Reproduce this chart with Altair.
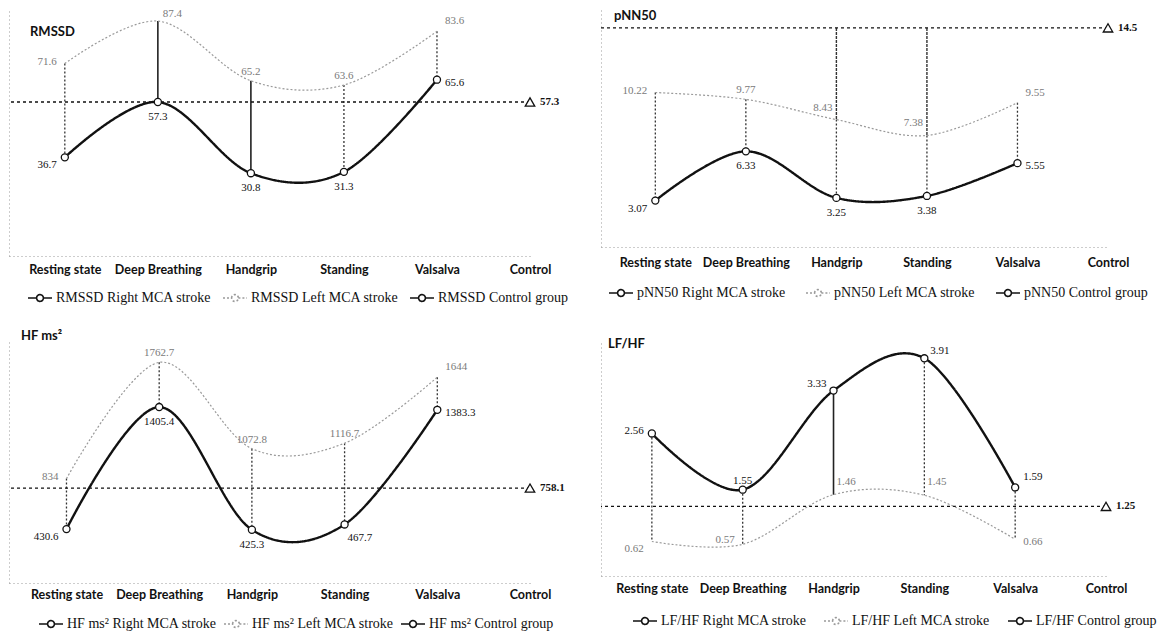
import altair as alt
import pandas as pd

categories = ["Resting state", "Deep Breathing", "Handgrip", "Standing", "Valsalva", "Control"]
tests = categories[:5]

rmssd_right = [36.7, 57.3, 30.8, 31.3, 65.6]
rmssd_left = [71.6, 87.4, 65.2, 63.6, 83.6]
rmssd_control = 57.3

pnn50_right = [3.07, 6.33, 3.25, 3.38, 5.55]
pnn50_left = [10.22, 9.77, 8.43, 7.38, 9.55]
pnn50_control = 14.5

hf_right = [430.6, 1405.4, 425.3, 467.7, 1383.3]
hf_left = [834, 1762.7, 1072.8, 1116.7, 1644]
hf_control = 758.1

lfhf_right = [2.56, 1.55, 3.33, 3.91, 1.59]
lfhf_left = [0.62, 0.57, 1.46, 1.45, 0.66]
lfhf_control = 1.25

SERIF = "Liberation Serif"
SANS = "Lato"
LEG_SYMBOL = "M-1.2,0L-0.34,0M0.34,0L1.2,0M-0.34,0A0.34,0.34,0,1,1,0.34,0A0.34,0.34,0,1,1,-0.34,0Z"


def fmt(v):
    return f"{v:g}"


def label_style(pos, top):
    if pos == "first":
        return ("right", -8, -2) if top else ("right", -8, 8)
    if pos == "last":
        return ("left", 8, -10) if top else ("left", 8, 3)
    return ("center", 0, -9) if top else ("center", 0, 15)


def panel(title, prefix, right, left, control, ymax, width, height, pad,
          title_xy, legend_xy, legend_pad, label_pad, ctrl_drops=(), solid_drops=(),
          overrides=None):
    overrides = overrides or {}
    names = [f"{prefix} Right MCA stroke", f"{prefix} Left MCA stroke", f"{prefix} Control group"]
    n = len(tests)
    pos = ["first"] + ["mid"] * (n - 2) + ["last"]
    rows = []
    for i, c in enumerate(tests):
        for isright, v, other in ((True, right[i], left[i]), (False, left[i], right[i])):
            top = v >= other if isright else v > other
            st = overrides.get((c, top), label_style(pos[i], top))
            rows.append({"cat": c, "val": v, "series": names[0] if isright else names[1],
                         "label": fmt(v), "isright": isright, "sty": "|".join(map(str, st))})
    df = pd.DataFrame(rows)
    drops = pd.DataFrame({"cat": tests, "hi": [max(a, b) for a, b in zip(right, left)],
                          "lo": [min(a, b) for a, b in zip(right, left)],
                          "solid": [c in solid_drops for c in tests]})
    cd = [(c, l) for c, l in zip(tests, left) if c in ctrl_drops]
    cdrops = pd.DataFrame({"cat": [c for c, _ in cd], "hi": [control] * len(cd), "lo": [l for _, l in cd]})
    ctrl = pd.DataFrame({"cat": ["Control"], "val": [control], "label": [fmt(control)]})
    tdf = pd.DataFrame({"t": [title]})

    xscale = alt.Scale(type="point", domain=categories, padding=pad, align=1)
    xaxis = alt.Axis(title=None, labelAngle=0, ticks=False, grid=False, domainDash=[1, 3],
                     domainColor="#9a9a9a", labelFont=SANS, labelFontWeight="bold",
                     labelFontSize=12.5, labelColor="#111111", labelPadding=label_pad)
    yscale = alt.Scale(domain=[0, ymax], nice=False, zero=True)
    yaxis = alt.Axis(title=None, labels=False, ticks=False, grid=False, domainDash=[1, 3],
                     domainColor="#9a9a9a")
    X = alt.X("cat:N", scale=xscale, axis=xaxis)
    Y = alt.Y("val:Q", scale=yscale, axis=yaxis)
    YH = alt.Y("hi:Q", scale=yscale, axis=yaxis)

    legend = alt.Legend(title=None, orient="none", legendX=legend_xy[0], legendY=legend_xy[1],
                        direction="horizontal", columns=3, symbolType=LEG_SYMBOL, symbolSize=400,
                        symbolStrokeWidth=1.6, labelFont=SERIF, labelFontSize=14,
                        labelColor="#111111", columnPadding=legend_pad, labelOffset=5, labelLimit=300)
    color = alt.Color("series:N", scale=alt.Scale(domain=names, range=["#111111", "#9a9a9a", "#111111"]),
                      legend=legend)
    dash = alt.StrokeDash("series:N", scale=alt.Scale(domain=names, range=[[1, 0], [2, 2], [1, 0]]),
                          legend=legend)

    base = alt.Chart(df)
    layers = []
    dchart = alt.Chart(drops)
    layers.append(dchart.transform_filter("!datum.solid").mark_rule(
        color="#333333", strokeWidth=1.3, strokeDash=[2, 2]).encode(x=X, y=YH, y2="lo:Q"))
    if any(drops["solid"]):
        layers.append(dchart.transform_filter("datum.solid").mark_rule(
            color="#222222", strokeWidth=1.6).encode(x=X, y=YH, y2="lo:Q"))
    if len(cd):
        layers.append(alt.Chart(cdrops).mark_rule(color="#333333", strokeWidth=1.4, strokeDash=[3, 1]).encode(
            x=X, y=YH, y2="lo:Q"))
    layers.append(alt.Chart(ctrl).mark_rule(color="#111111", strokeWidth=1.3, strokeDash=[3, 3]).encode(y=Y))
    layers.append(base.transform_filter("!datum.isright").mark_line(interpolate="cardinal", strokeWidth=1.2).encode(
        x=X, y=Y, color=color, strokeDash=dash))
    layers.append(base.transform_filter("datum.isright").mark_line(interpolate="cardinal", strokeWidth=2.4).encode(
        x=X, y=Y, color=color, strokeDash=dash))
    layers.append(base.transform_filter("datum.isright").mark_circle(
        size=50, fill="white", stroke="#111111", strokeWidth=1.3, opacity=1).encode(x=X, y=Y))
    # value labels, one layer per placement style
    for sty in sorted(set(df["sty"])):
        al, dx, dy = sty.split("|")
        layers.append(base.transform_filter(f"datum.sty == '{sty}'").mark_text(
            align=al, baseline="middle", dx=float(dx), dy=float(dy), font=SERIF, fontSize=11).encode(
            x=X, y=Y, text="label:N",
            color=alt.condition("datum.isright", alt.value("#111111"), alt.value("#7a7a7a"))))
    layers.append(alt.Chart(ctrl).mark_point(shape="triangle-up", size=90, filled=True, fill="white",
                                             stroke="#111111", strokeWidth=1.3, opacity=1).encode(x=X, y=Y))
    layers.append(alt.Chart(ctrl).mark_text(align="left", baseline="middle", dx=10, font=SERIF,
                                            fontWeight="bold", fontSize=11, color="#111111").encode(
        x=X, y=Y, text="label:N"))
    layers.append(alt.Chart(tdf).mark_text(align="left", baseline="middle", font=SANS, fontWeight="bold",
                                           fontSize=13, color="#111111").encode(
        x=alt.value(title_xy[0]), y=alt.value(title_xy[1]), text="t:N"))
    return alt.layer(*layers).properties(width=width, height=height)


p1 = panel("RMSSD", "RMSSD", rmssd_right, rmssd_left, rmssd_control, 91.9, 521, 247, 0.3,
           (21, 23), (20, 278), 7, 7, solid_drops=("Deep Breathing", "Handgrip"),
           overrides={("Deep Breathing", True): ("left", 5, -7)})
p2 = panel("pNN50", "pNN50", pnn50_right, pnn50_left, pnn50_control, 15.75, 507, 238, 0.3,
           (13, 7), (9, 273), 16, 9, ctrl_drops=("Handgrip", "Standing"),
           overrides={("Handgrip", True): ("right", -4, -12), ("Standing", True): ("right", -4, -12)})
p3 = panel("HF ms²", "HF ms²", hf_right, hf_left, hf_control, 1933, 521, 242, 0.31,
           (12, -5), (31, 272), 3, 5,
           overrides={("Standing", False): ("left", 3, 14)})
p4 = panel("LF/HF", "LF/HF", lfhf_right, lfhf_left, lfhf_control, 4.22, 505, 235, 0.28,
           (7, 3), (33, 269), 13, 6, solid_drops=("Handgrip",),
           overrides={("Handgrip", False): ("left", 3, -13), ("Standing", False): ("left", 3, -13),
                      ("Deep Breathing", False): ("right", -8, -4),
                      ("Handgrip", True): ("right", -7, -7), ("Standing", True): ("left", 6, -7)})

chart = alt.concat(p1, p2, p3, p4, columns=2, spacing={"row": 85, "column": 71}, bounds="flush").resolve_scale(
    color="independent", strokeDash="independent", x="independent", y="independent"
).configure_view(stroke=None).properties(padding=0, background="white")

chart.save("out.html", embed_options={"renderer": "svg", "actions": False})
